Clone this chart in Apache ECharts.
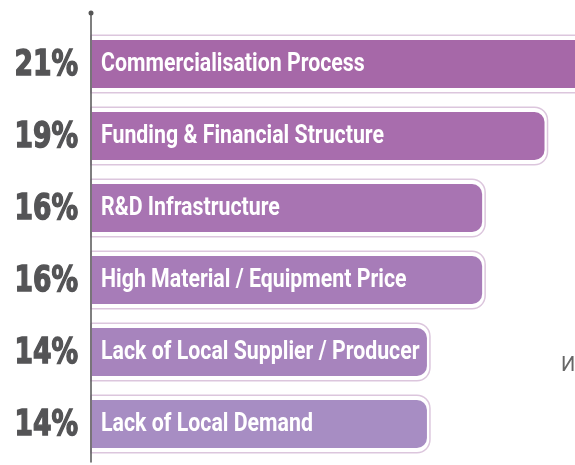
<!DOCTYPE html>
<html>
<head>
<meta charset="utf-8">
<script src="https://cdn.jsdelivr.net/npm/echarts@6/dist/echarts.min.js"></script>
<style>
html, body { margin: 0; padding: 0; background: #fff; }
#chart { width: 575px; height: 465px; }
</style>
</head>
<body>
<div id="chart"></div>
<script>
var categories = [
    'Commercialisation Process',
    'Funding & Financial Structure',
    'R&D Infrastructure',
    'High Material / Equipment Price',
    'Lack of Local Supplier / Producer',
    'Lack of Local Demand'
];
var shares = [21.2, 18.9, 16.3, 16.3, 14.0, 14.0];
var barColors = ['#a668a8', '#a86dad', '#a874b2', '#a77cb8', '#a784bd', '#a78dc3'];

var narrowFont = '"DejaVu Sans Condensed", "DejaVu Sans", sans-serif';
var myChart = echarts.init(document.getElementById('chart'));

// bar with a thin outline a few px outside it, name inside, percent on the left
function renderBar(params, api) {
    var i = params.dataIndex;
    var start = api.coord([0, i]);
    var end = api.coord([api.value(0), i]);
    var band = api.size([0, 1])[1];
    var x0 = start[0], y = start[1], len = end[0] - x0;
    var outerH = band * 0.8, innerH = band * 0.667;
    return {
        type: 'group',
        children: [{
            type: 'rect',
            shape: {x: x0, y: y - outerH / 2, width: len + 3, height: outerH, r: [0, 13, 13, 0]},
            style: {fill: 'none', stroke: '#dcc6dd', lineWidth: 1.5}
        }, {
            type: 'rect',
            shape: {x: x0 + 1, y: y - innerH / 2, width: len - 1, height: innerH, r: [0, 10, 10, 0]},
            style: {fill: barColors[i]}
        }, {
            type: 'text',
            x: x0 + 10,
            y: y,
            scaleX: 0.82,
            style: {
                text: categories[i],
                fill: '#fff',
                fontFamily: 'Roboto',
                fontWeight: 'bold',
                fontSize: 26,
                verticalAlign: 'middle'
            }
        }, {
            type: 'text',
            x: x0 - 13,
            y: y + 2,
            scaleX: 0.82,
            style: {
                text: Math.round(api.value(0)) + '%',
                fill: '#545456',
                stroke: '#545456',
                lineWidth: 1.4,
                fontFamily: narrowFont,
                fontWeight: 'bold',
                fontSize: 36,
                align: 'right',
                verticalAlign: 'middle'
            }
        }]
    };
}

myChart.setOption({
    animation: false,
    grid: [
        {left: 91, right: 0, top: 28, bottom: 5},
        {left: 91, right: 0, top: 13, bottom: 3}
    ],
    xAxis: [
        {type: 'value', gridIndex: 0, min: 0, max: 20.17, show: false},
        {type: 'value', gridIndex: 1, min: 0, max: 1, show: false}
    ],
    yAxis: [{
        type: 'category',
        gridIndex: 0,
        inverse: true,
        data: categories,
        axisLine: {show: false},
        axisTick: {show: false},
        axisLabel: {show: false}
    }, {
        type: 'category',
        gridIndex: 1,
        data: [''],
        z: 5,
        axisLine: {
            show: true,
            symbol: ['none', 'circle'],
            symbolSize: [5, 5],
            lineStyle: {color: '#555', width: 1.5}
        },
        axisTick: {show: false},
        axisLabel: {show: false}
    }],
    graphic: [{
        type: 'text',
        left: 561,
        top: 356,
        style: {text: 'И', fill: '#666', fontSize: 20, fontFamily: 'Roboto'}
    }],
    series: [{
        type: 'custom',
        xAxisIndex: 0,
        yAxisIndex: 0,
        renderItem: renderBar,
        encode: {x: 0, y: 1},
        data: shares.map(function (v, i) {
            return [v, categories[i]];
        })
    }]
});
</script>
</body>
</html>
